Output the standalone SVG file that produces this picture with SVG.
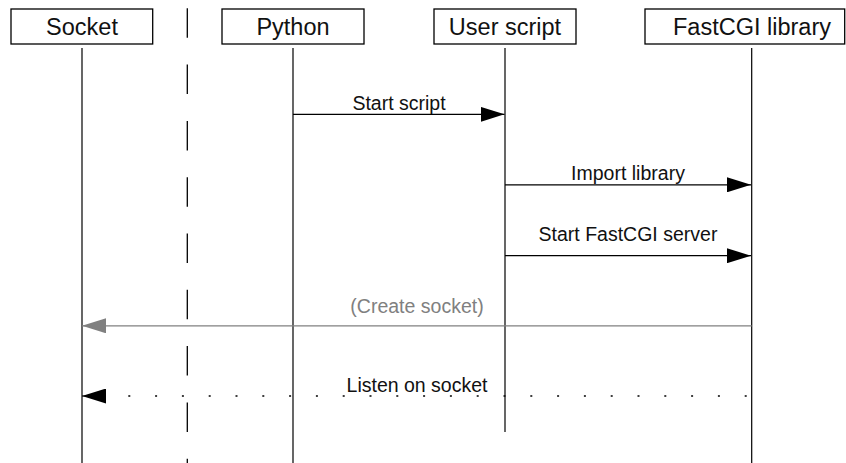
<svg xmlns="http://www.w3.org/2000/svg" width="846" height="463" viewBox="0 0 846 463">
<style>
.box{fill:#fff;stroke:#000;stroke-width:1.3}
.bl{font-family:"Liberation Sans",Arial,sans-serif;font-size:23.5px;fill:#111;text-anchor:middle}
.ml{font-family:"Liberation Sans",Arial,sans-serif;font-size:19.5px;fill:#111;text-anchor:middle}
.life{stroke:#000;stroke-width:1.2;fill:none}
.msg{stroke:#000;stroke-width:1.2;fill:none}
</style>
<defs>
<marker id="ah" markerUnits="userSpaceOnUse" markerWidth="24" markerHeight="15" refX="24" refY="7.5" orient="auto">
<path d="M0,0 L24,7.5 L0,15 z" fill="#000"/>
</marker>
<marker id="ahg" markerUnits="userSpaceOnUse" markerWidth="24" markerHeight="15" refX="24" refY="7.5" orient="auto">
<path d="M0,0 L24,7.5 L0,15 z" fill="#808080"/>
</marker>
</defs>
<rect width="846" height="463" fill="#fff"/>
<g id="separator">
<line x1="187.3" y1="8.3" x2="187.3" y2="463" stroke="#000" stroke-width="1.3" stroke-dasharray="29.5 26.8"/>
</g>
<g id="node-socket">
<rect class="box" x="11" y="9" width="141.7" height="35"/>
<text class="bl" x="82" y="35">Socket</text>
<line class="life" x1="82" y1="48" x2="82" y2="463"/>
</g>
<g id="node-python">
<rect class="box" x="222" y="9" width="142" height="35"/>
<text class="bl" x="293" y="35">Python</text>
<line class="life" x1="293" y1="48" x2="293" y2="463"/>
</g>
<g id="node-userscript">
<rect class="box" x="434" y="9" width="142" height="35"/>
<text class="bl" x="505" y="35">User script</text>
<line class="life" x1="505" y1="48" x2="505" y2="432"/>
</g>
<g id="node-fastcgi">
<rect class="box" x="645" y="9" width="199.7" height="35"/>
<text class="bl" x="752" y="35">FastCGI library</text>
<line class="life" x1="751.7" y1="48" x2="751.7" y2="463"/>
</g>
<g id="connectors">
<line class="msg" x1="293" y1="114.3" x2="504.5" y2="114.3" marker-end="url(#ah)"/>
<text class="ml" x="399" y="110">Start script</text>
<line class="msg" x1="505" y1="184.8" x2="751" y2="184.8" marker-end="url(#ah)"/>
<text class="ml" x="628" y="180">Import library</text>
<line class="msg" x1="505" y1="255.7" x2="751" y2="255.7" marker-end="url(#ah)"/>
<text class="ml" x="628" y="241">Start FastCGI server</text>
<line x1="751.7" y1="325.8" x2="82" y2="325.8" stroke="#808080" stroke-width="1.3" marker-end="url(#ahg)"/>
<text class="ml" x="417" y="312.5" fill="#808080" style="fill:#808080">(Create socket)</text>
<line x1="128.3" y1="396" x2="751" y2="396" stroke="#000" stroke-width="1.6" stroke-dasharray="2 24.8"/>
<line x1="106" y1="396" x2="82" y2="396" stroke="#000" stroke-width="1" marker-end="url(#ah)"/>
<text class="ml" x="417" y="391.5">Listen on socket</text>
</g>
</svg>
